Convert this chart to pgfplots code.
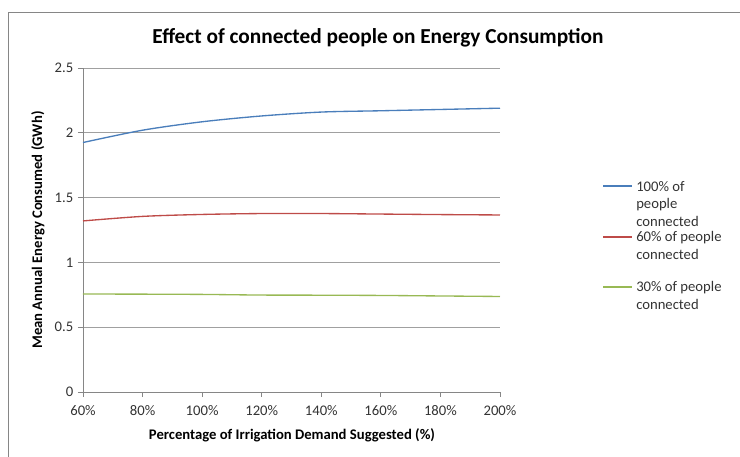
\documentclass[border=0pt]{standalone}
\usepackage{pgfplots}
\pgfplotsset{compat=1.18}
\usepackage{fontspec}
\setmainfont{Carlito}
\definecolor{sblue}{HTML}{4A7EBB}
\definecolor{sred}{HTML}{BE4B48}
\definecolor{sgreen}{HTML}{98B954}
\definecolor{gridg}{HTML}{A0A0A0}
\definecolor{axg}{HTML}{868686}
\begin{document}
\begin{tikzpicture}[font=\fontsize{11pt}{13pt}\selectfont]
\path[use as bounding box] (-62.25pt,-48.75pt) rectangle (492.75pt,294pt);
\begin{scope}
\clip (-62.25pt,-48.75pt) rectangle (492.75pt,294pt);
\draw[axg, line width=0.6pt] (-56.25pt,-80pt) -- (-56.25pt,285pt) -- (520pt,285pt);
\end{scope}
\begin{axis}[
  at={(0pt,0pt)}, anchor=south west,
  scale only axis, width=312.75pt, height=243pt,
  xmin=60, xmax=200, ymin=0, ymax=2.5,
  axis lines*=left,
  axis line style={axg, line width=0.6pt},
  xtick={60,80,...,200},
  ytick={0,0.5,...,2.5},
  xticklabel={\pgfmathprintnumber{\tick}\%},
  yticklabel style={/pgf/number format/.cd, fixed, precision=1},
  xticklabel style={yshift=-2.5pt},
  /pgf/number format/assume math mode=true,
  tick align=outside,
  major tick length=3.75pt,
  tick style={axg, line width=0.6pt},
  ymajorgrids,
  grid style={gridg, line width=0.6pt},
  ticklabel style={font=\fontsize{11pt}{13pt}\selectfont, text=black!80},
  clip=false,
]
\addplot[sblue, line width=1pt, smooth] coordinates {(60,1.925) (80,2.02) (100,2.085) (120,2.13) (140,2.16) (160,2.17) (180,2.18) (200,2.19)};
\addplot[sred, line width=1pt, smooth] coordinates {(60,1.32) (80,1.355) (100,1.37) (120,1.377) (140,1.377) (160,1.373) (180,1.369) (200,1.366)};
\addplot[sgreen, line width=1pt, smooth] coordinates {(60,0.756) (80,0.755) (100,0.753) (120,0.748) (140,0.747) (160,0.745) (180,0.741) (200,0.737)};
\end{axis}
\node[font=\fontsize{16pt}{18pt}\selectfont\bfseries] at (221.25pt,265.5pt) {Effect of connected people on Energy Consumption};
\node[font=\fontsize{11pt}{13pt}\selectfont\bfseries, rotate=90] at (-33.75pt,121.5pt) {Mean Annual Energy Consumed (GWh)};
\node[font=\fontsize{11pt}{13pt}\selectfont\bfseries] at (156.75pt,-32.25pt) {Percentage of Irrigation Demand Suggested (\%)};
% legend
\draw[sblue, line width=1pt] (390pt,154.5pt) -- (411.75pt,154.5pt);
\draw[sred, line width=1pt] (390pt,116.25pt) -- (411.75pt,116.25pt);
\draw[sgreen, line width=1pt] (390pt,78.75pt) -- (411.75pt,78.75pt);
\begin{scope}[every node/.style={anchor=base west, inner sep=0pt, text=black!80}]
\node at (414.75pt,150.4pt) {100\% of};
\node at (414.75pt,137.6pt) {people};
\node at (414.75pt,124.1pt) {connected};
\node at (414.75pt,112.9pt) {60\% of people};
\node at (414.75pt,99.4pt) {connected};
\node at (414.75pt,75.4pt) {30\% of people};
\node at (414.75pt,61.9pt) {connected};
\end{scope}
\end{tikzpicture}
\end{document}
